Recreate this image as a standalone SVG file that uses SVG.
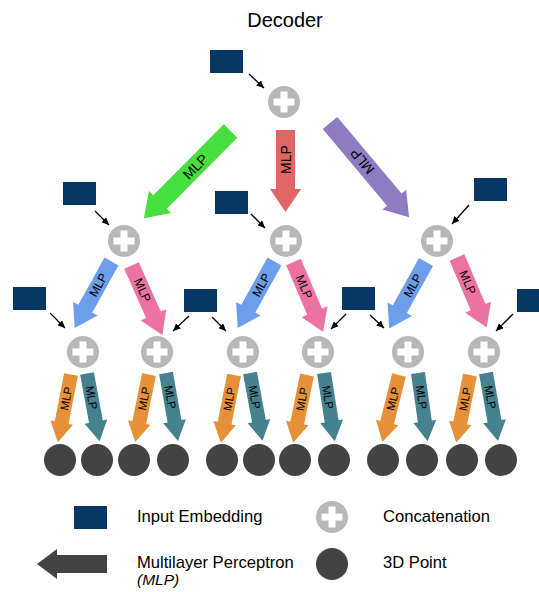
<svg xmlns="http://www.w3.org/2000/svg" xmlns:xlink="http://www.w3.org/1999/xlink" width="539" height="592" viewBox="0 0 539 592">
  <style>
    text { font-family: "Liberation Sans", Arial, sans-serif; fill: #000; }
    .title { font-size: 20px; text-anchor: middle; }
    .legend { font-size: 16.6px; }
    .legend-sub { font-size: 15.5px; font-style: italic; }
    .lbl { text-anchor: middle; dominant-baseline: central; }
    .lbl-l { font-size: 14px; }
    .lbl-m { font-size: 12px; }
    .lbl-s { font-size: 11.5px; }
    .emb { fill: #073763; }
    .cat { fill: #B7B7B7; }
    .plus { fill: #FFFFFF; }
    .pt { fill: #434343; }
    .link { stroke: #000; stroke-width: 1.3; fill: none; marker-end: url(#tip); }
    .red { fill: #E06666; }
    .green { fill: #46DF3E; }
    .purple { fill: #8E7CC3; }
    .blue { fill: #6D9EEB; }
    .pink { fill: #EC73A1; }
    .orange { fill: #E69138; }
    .teal { fill: #45818E; }
    .dark { fill: #434343; }
  </style>
  <defs>
    <marker id="tip" markerUnits="userSpaceOnUse" markerWidth="8" markerHeight="7" refX="7.5" refY="3.5" orient="auto">
      <path d="M0,0 L7.5,3.5 L0,7 Z" fill="#000"/>
    </marker>
    <!-- block arrows, tail at origin, pointing along +x -->
    <path id="arrowL" d="M0,-9.5 H100 V-15.5 L123,0 L100,15.5 V9.5 H0 Z"/>
    <path id="arrowR" d="M0,-9.5 H59 V-15.5 L82,0 L59,15.5 V9.5 H0 Z"/>
    <path id="arrowM" d="M0,-8 H54 V-14 L76,0 L54,14 V8 H0 Z"/>
    <path id="arrowS" d="M0,-7 H49 V-11.5 L69,0 L49,11.5 V7 H0 Z"/>
    <g id="catNode">
      <circle r="16" class="cat"/>
      <rect x="-10.5" y="-3.5" width="21" height="7" class="plus"/>
      <rect x="-3.5" y="-10.5" width="7" height="21" class="plus"/>
    </g>
  </defs>

  <text class="title" x="285" y="27">Decoder</text>

  <!-- concatenation nodes -->
  <g id="cat-root"><use xlink:href="#catNode" x="284" y="102"/></g>
  <g id="cat-l"><use xlink:href="#catNode" x="124" y="241"/></g>
  <g id="cat-m"><use xlink:href="#catNode" x="286" y="241"/></g>
  <g id="cat-r"><use xlink:href="#catNode" x="437" y="241"/></g>
  <g id="cat-ll"><use xlink:href="#catNode" x="83" y="352"/></g>
  <g id="cat-lr"><use xlink:href="#catNode" x="157" y="352"/></g>
  <g id="cat-ml"><use xlink:href="#catNode" x="243" y="352"/></g>
  <g id="cat-mr"><use xlink:href="#catNode" x="318" y="352"/></g>
  <g id="cat-rl"><use xlink:href="#catNode" x="408" y="352"/></g>
  <g id="cat-rr"><use xlink:href="#catNode" x="484" y="352"/></g>

  <!-- input embeddings -->
  <g id="emb-root"><rect class="emb" x="210" y="50" width="33" height="23"/></g>
  <g id="emb-l"><rect class="emb" x="63" y="182" width="33" height="23"/></g>
  <g id="emb-m"><rect class="emb" x="215" y="191" width="33" height="23"/></g>
  <g id="emb-r"><rect class="emb" x="474" y="178" width="33" height="23"/></g>
  <g id="emb-3a"><rect class="emb" x="13" y="287" width="33" height="23"/></g>
  <g id="emb-3b"><rect class="emb" x="184" y="289" width="33" height="23"/></g>
  <g id="emb-3c"><rect class="emb" x="342" y="287" width="33" height="23"/></g>
  <g id="emb-3d"><rect class="emb" x="517" y="289" width="33" height="23"/></g>

  <!-- 3D points -->
  <g id="points">
    <circle class="pt" cx="60" cy="460" r="16"/>
    <circle class="pt" cx="97" cy="460" r="16"/>
    <circle class="pt" cx="134" cy="460" r="16"/>
    <circle class="pt" cx="173" cy="460" r="16"/>
    <circle class="pt" cx="222" cy="460" r="16"/>
    <circle class="pt" cx="259" cy="460" r="16"/>
    <circle class="pt" cx="295" cy="460" r="16"/>
    <circle class="pt" cx="334" cy="460" r="16"/>
    <circle class="pt" cx="383" cy="460" r="16"/>
    <circle class="pt" cx="422" cy="460" r="16"/>
    <circle class="pt" cx="462" cy="460" r="16"/>
    <circle class="pt" cx="501" cy="460" r="16"/>
  </g>

  <g id="connectors">
    <!-- embedding inputs -->
    <line class="link" x1="249" y1="74" x2="264" y2="88"/>
    <line class="link" x1="95" y1="211" x2="109" y2="225"/>
    <line class="link" x1="251" y1="214" x2="265" y2="228"/>
    <line class="link" x1="469" y1="205" x2="452" y2="224"/>
    <line class="link" x1="50" y1="313" x2="65" y2="328"/>
    <line class="link" x1="189" y1="316" x2="173" y2="331"/>
    <line class="link" x1="212" y1="317" x2="226" y2="331"/>
    <line class="link" x1="346" y1="314" x2="331" y2="329"/>
    <line class="link" x1="370" y1="315" x2="384" y2="328"/>
    <line class="link" x1="513" y1="314" x2="496" y2="331"/>

    <!-- level 1 MLPs -->
    <g transform="translate(230.5,131) rotate(134.8)">
      <use xlink:href="#arrowL" class="green"/>
      <text class="lbl lbl-l" transform="translate(50,0) rotate(180)">MLP</text>
    </g>
    <g transform="translate(285.5,130) rotate(90)">
      <use xlink:href="#arrowR" class="red"/>
      <text class="lbl lbl-l" transform="translate(29.5,0) rotate(180)">MLP</text>
    </g>
    <g transform="translate(330,123) rotate(50)">
      <use xlink:href="#arrowL" class="purple"/>
      <text class="lbl lbl-l" transform="translate(50,0) rotate(180)">MLP</text>
    </g>

    <!-- level 2 MLPs -->
    <g transform="translate(111.5,261.5) rotate(119)">
      <use xlink:href="#arrowM" class="blue"/>
      <text class="lbl lbl-m" transform="translate(27,0) rotate(180)">MLP</text>
    </g>
    <g transform="translate(131.5,265.5) rotate(66)">
      <use xlink:href="#arrowM" class="pink"/>
      <text class="lbl lbl-m" transform="translate(27,0)">MLP</text>
    </g>
    <g transform="translate(274.5,261.5) rotate(119)">
      <use xlink:href="#arrowM" class="blue"/>
      <text class="lbl lbl-m" transform="translate(27,0) rotate(180)">MLP</text>
    </g>
    <g transform="translate(293.5,262) rotate(67)">
      <use xlink:href="#arrowM" class="pink"/>
      <text class="lbl lbl-m" transform="translate(27,0)">MLP</text>
    </g>
    <g transform="translate(426,262) rotate(119)">
      <use xlink:href="#arrowM" class="blue"/>
      <text class="lbl lbl-m" transform="translate(27,0) rotate(180)">MLP</text>
    </g>
    <g transform="translate(457,257.5) rotate(67)">
      <use xlink:href="#arrowM" class="pink"/>
      <text class="lbl lbl-m" transform="translate(27,0)">MLP</text>
    </g>

    <!-- level 3 MLPs -->
    <g transform="translate(71,374.5) rotate(101)">
      <use xlink:href="#arrowS" class="orange"/>
      <text class="lbl lbl-s" transform="translate(24.5,0) rotate(180)">MLP</text>
    </g>
    <g transform="translate(87,373.5) rotate(79.5)">
      <use xlink:href="#arrowS" class="teal"/>
      <text class="lbl lbl-s" transform="translate(24.5,0)">MLP</text>
    </g>
    <g transform="translate(149,374.5) rotate(101.5)">
      <use xlink:href="#arrowS" class="orange"/>
      <text class="lbl lbl-s" transform="translate(24.5,0) rotate(180)">MLP</text>
    </g>
    <g transform="translate(166,373) rotate(80)">
      <use xlink:href="#arrowS" class="teal"/>
      <text class="lbl lbl-s" transform="translate(24.5,0)">MLP</text>
    </g>
    <g transform="translate(234,375) rotate(101)">
      <use xlink:href="#arrowS" class="orange"/>
      <text class="lbl lbl-s" transform="translate(24.5,0) rotate(180)">MLP</text>
    </g>
    <g transform="translate(250,373) rotate(79.5)">
      <use xlink:href="#arrowS" class="teal"/>
      <text class="lbl lbl-s" transform="translate(24.5,0)">MLP</text>
    </g>
    <g transform="translate(307,375) rotate(101.5)">
      <use xlink:href="#arrowS" class="orange"/>
      <text class="lbl lbl-s" transform="translate(24.5,0) rotate(180)">MLP</text>
    </g>
    <g transform="translate(324,373) rotate(81)">
      <use xlink:href="#arrowS" class="teal"/>
      <text class="lbl lbl-s" transform="translate(24.5,0)">MLP</text>
    </g>
    <g transform="translate(399,375) rotate(104)">
      <use xlink:href="#arrowS" class="orange"/>
      <text class="lbl lbl-s" transform="translate(24.5,0) rotate(180)">MLP</text>
    </g>
    <g transform="translate(418,373) rotate(82)">
      <use xlink:href="#arrowS" class="teal"/>
      <text class="lbl lbl-s" transform="translate(24.5,0)">MLP</text>
    </g>
    <g transform="translate(470,375) rotate(101.5)">
      <use xlink:href="#arrowS" class="orange"/>
      <text class="lbl lbl-s" transform="translate(24.5,0) rotate(180)">MLP</text>
    </g>
    <g transform="translate(486,373) rotate(80)">
      <use xlink:href="#arrowS" class="teal"/>
      <text class="lbl lbl-s" transform="translate(24.5,0)">MLP</text>
    </g>
  </g>

  <!-- legend -->
  <g id="legend">
    <rect class="emb" x="74" y="506" width="33" height="23"/>
    <text class="legend" x="137" y="522">Input Embedding</text>
    <use xlink:href="#catNode" x="332" y="517"/>
    <text class="legend" x="383" y="522">Concatenation</text>
    <path class="dark" d="M107,555 H57 V549 L37,564 L57,579 V573 H107 Z"/>
    <text class="legend" x="137" y="568">Multilayer Perceptron</text>
    <text class="legend-sub" x="137" y="585">(MLP)</text>
    <circle class="pt" cx="332" cy="564" r="16"/>
    <text class="legend" x="383" y="568">3D Point</text>
  </g>
</svg>
